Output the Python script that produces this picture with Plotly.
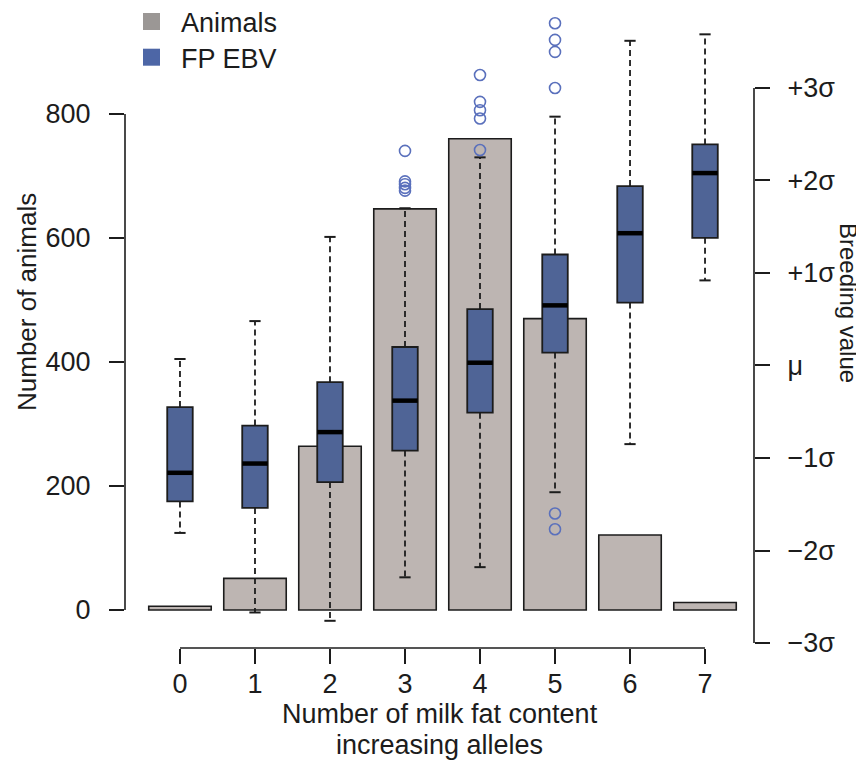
import plotly.graph_objects as go

# ---- data ----
alleles = [0, 1, 2, 3, 4, 5, 6, 7]
animals = [6, 51, 264, 647, 760, 470, 121, 12]

# FP EBV boxplot statistics (in units of sigma around mu)
ebv_upper = [0.07, 0.48, 1.39, 1.70, 2.25, 2.69, 3.51, 3.58]
ebv_q3 = [-0.45, -0.65, -0.18, 0.20, 0.61, 1.20, 1.94, 2.39]
ebv_median = [-1.16, -1.06, -0.72, -0.38, 0.03, 0.65, 1.43, 2.08]
ebv_q1 = [-1.47, -1.54, -1.26, -0.92, -0.51, 0.14, 0.68, 1.38]
ebv_lower = [-1.81, -2.67, -2.76, -2.29, -2.18, -1.37, -0.85, 0.92]

outlier_x = [3, 3, 3, 3, 3,
             4, 4, 4, 4, 4,
             5, 5, 5, 5, 5, 5]
outlier_y = [2.32, 1.99, 1.96, 1.92, 1.89,
             3.14, 2.85, 2.76, 2.67, 2.33,
             3.70, 3.52, 3.39, 3.00, -1.60, -1.77]

left_ticks = [0, 200, 400, 600, 800]
right_ticks = [-3, -2, -1, 0, 1, 2, 3]
right_labels = ["\u22123\u03c3", "\u22122\u03c3", "\u22121\u03c3", "\u03bc",
                "+1\u03c3", "+2\u03c3", "+3\u03c3"]

legend_names = ["Animals", "FP EBV"]
legend_colors = ["#9B9795", "#4D66A6"]

# ---- styles ----
FONT = "Liberation Sans, Arial, Helvetica, sans-serif"
INK = "#1c1c1c"
BAR_FILL = "#BDB5B2"
BOX_FILL = "#4F6496"
OUT_COL = "#5A70BC"
BAR_W = 0.833
BOX_W = 0.34
CAP_W = 0.15
FS = 27

fig = go.Figure()

fig.add_trace(go.Bar(
    x=alleles, y=animals, width=BAR_W, name="Animals",
    marker=dict(color=BAR_FILL, line=dict(color=INK, width=1.6)),
    showlegend=False, hoverinfo="skip"))

# boxes
fig.add_trace(go.Bar(
    x=alleles, base=ebv_q1, name="FP EBV",
    y=[a - b for a, b in zip(ebv_q3, ebv_q1)],
    width=BOX_W, yaxis="y2",
    marker=dict(color=BOX_FILL, line=dict(color=INK, width=1.8)),
    showlegend=False, hoverinfo="skip"))

# whiskers (dashed)
wx, wy = [], []
for i, x in enumerate(alleles):
    wx += [x, x, None, x, x, None]
    wy += [ebv_q3[i], ebv_upper[i], None, ebv_q1[i], ebv_lower[i], None]
fig.add_trace(go.Scatter(
    x=wx, y=wy, yaxis="y2", mode="lines",
    line=dict(color=INK, width=1.8, dash="6px,4px"),
    showlegend=False, hoverinfo="skip"))

# caps
cx, cy = [], []
for i, x in enumerate(alleles):
    for v in (ebv_upper[i], ebv_lower[i]):
        cx += [x - CAP_W / 2, x + CAP_W / 2, None]
        cy += [v, v, None]
fig.add_trace(go.Scatter(
    x=cx, y=cy, yaxis="y2", mode="lines",
    line=dict(color=INK, width=2),
    showlegend=False, hoverinfo="skip"))

# medians
mx, my = [], []
for i, x in enumerate(alleles):
    mx += [x - BOX_W / 2, x + BOX_W / 2, None]
    my += [ebv_median[i], ebv_median[i], None]
fig.add_trace(go.Scatter(
    x=mx, y=my, yaxis="y2", mode="lines",
    line=dict(color="#000000", width=4.5),
    showlegend=False, hoverinfo="skip"))

# outliers
fig.add_trace(go.Scatter(
    x=outlier_x, y=outlier_y, yaxis="y2", mode="markers",
    marker=dict(symbol="circle-open", size=11, color=OUT_COL,
                line=dict(width=1.6, color=OUT_COL)),
    showlegend=False, hoverinfo="skip"))

# axis lines drawn only across tick span (R style)
shapes = [
    dict(type="line", xref="paper", yref="y", x0=0, x1=0,
         y0=left_ticks[0], y1=left_ticks[-1], line=dict(color=INK, width=1.6)),
    dict(type="line", xref="paper", yref="y2", x0=1, x1=1,
         y0=right_ticks[0], y1=right_ticks[-1], line=dict(color=INK, width=1.6)),
    dict(type="line", xref="x", yref="paper", x0=alleles[0], x1=alleles[-1],
         y0=0, y1=0, line=dict(color=INK, width=1.6)),
]

# manual legend (squares + labels), plot area: 629 x 638 px
PW, PH = 629.0, 638.0
annotations = []
leg_sq_y = [7, 42.7]
leg_txt_y = [15, 51]
for k, (nm, col) in enumerate(zip(legend_names, legend_colors)):
    top = leg_sq_y[k] - 2
    shapes.append(dict(type="rect", xref="paper", yref="paper",
                       x0=(135 - 117) / PW, x1=(152 - 117) / PW,
                       y0=(640 - top - 17) / PH, y1=(640 - top) / PH,
                       line=dict(width=0), fillcolor=col))
    annotations.append(dict(text=nm, xref="paper", yref="paper",
                            x=(171 - 117) / PW, y=(640 - leg_txt_y[k]) / PH,
                            xanchor="left", yanchor="middle", showarrow=False,
                            font=dict(size=FS)))

annotations += [
    dict(text="Number of animals", xref="paper", yref="paper",
         x=(19 - 117) / PW, y=(640 - 294) / PH, textangle=-90, showarrow=False,
         xanchor="center", yanchor="middle", font=dict(size=26)),
    dict(text="Breeding value", xref="paper", yref="paper",
         x=(841 - 117) / PW, y=(640 - 295) / PH, textangle=90, showarrow=False,
         xanchor="center", yanchor="middle", font=dict(size=24)),
    dict(text="Number of milk fat content", xref="paper", yref="paper",
         x=(432 - 117) / PW, y=(640 - 706) / PH, showarrow=False,
         xanchor="center", yanchor="middle", font=dict(size=FS)),
    dict(text="increasing alleles", xref="paper", yref="paper",
         x=(432 - 117) / PW, y=(640 - 737) / PH, showarrow=False,
         xanchor="center", yanchor="middle", font=dict(size=FS)),
]

tickfont = dict(family=FONT, size=FS, color=INK)

fig.update_layout(
    width=856, height=753,
    margin=dict(l=117, r=110, t=2, b=113),
    paper_bgcolor="white", plot_bgcolor="white",
    barmode="overlay",
    font=dict(family=FONT, size=FS, color=INK),
    shapes=shapes,
    annotations=annotations,
    showlegend=False,
    xaxis=dict(range=[-0.733, 7.653], tickmode="array", tickvals=alleles,
               ticktext=[str(a) for a in alleles],
               ticks="outside", ticklen=15, tickwidth=1.6, tickcolor=INK,
               showline=False, showgrid=False, zeroline=False,
               tickfont=tickfont, ticklabelstandoff=-3),
    yaxis=dict(range=[-61.29, 967.7], tickmode="array", tickvals=left_ticks,
               ticks="outside", ticklen=15, tickwidth=1.6, tickcolor=INK,
               showline=False, showgrid=False, zeroline=False,
               tickfont=tickfont, ticklabelstandoff=13),
    yaxis2=dict(range=[-3.054, 3.843], overlaying="y", side="right",
                tickmode="array", tickvals=right_ticks, ticktext=right_labels,
                ticks="outside", ticklen=15, tickwidth=1.6, tickcolor=INK,
                showline=False, showgrid=False, zeroline=False,
                tickfont=tickfont, ticklabelstandoff=12),
)

fig.write_html("out.html")
